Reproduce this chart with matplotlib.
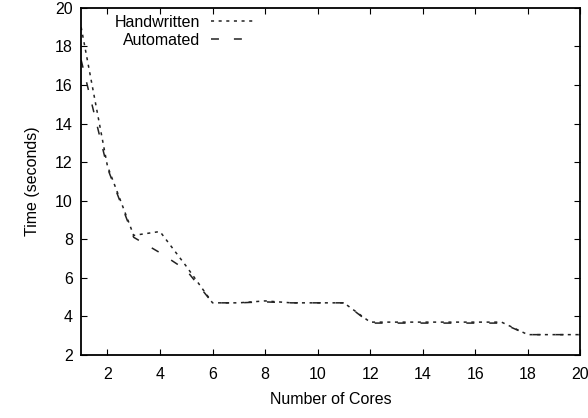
import matplotlib
matplotlib.use('Agg')
from matplotlib import pyplot as plt

plt.rcParams['font.family'] = ['Liberation Sans', 'DejaVu Sans']

cores = [1, 2, 3, 4, 5, 6, 7, 8, 9, 10, 11, 12, 13, 14, 15, 16, 17, 18, 19, 20]
handwritten = [19.0, 11.8, 8.2, 8.4, 6.6, 4.7, 4.7, 4.8, 4.7, 4.7, 4.7,
               3.7, 3.7, 3.7, 3.7, 3.7, 3.7, 3.05, 3.05, 3.05]
automated = [17.3, 11.7, 8.1, 7.3, 6.4, 4.7, 4.7, 4.75, 4.7, 4.7, 4.7,
             3.65, 3.65, 3.65, 3.65, 3.65, 3.65, 3.05, 3.05, 3.05]

FS = 11.5

fig = plt.figure(figsize=(5.88, 4.18), dpi=100)
ax = fig.add_axes([0.138, 0.151, 0.849, 0.830])

ax.plot(cores, handwritten, color='#222222', linewidth=1.1,
        linestyle=(0, (2, 3)), label='Handwritten')
ax.plot(cores, automated, color='#222222', linewidth=1.1,
        linestyle=(0, (5.2, 9.8)), label='Automated')

ax.set_xlim(1, 20)
ax.set_ylim(2, 20)
ax.set_xticks(range(2, 21, 2))
ax.set_yticks(range(2, 21, 2))
ax.tick_params(direction='in', top=True, right=True, length=4, labelsize=FS)
ax.tick_params(axis='x', pad=9)
ax.tick_params(axis='y', pad=6)
for s in ax.spines.values():
    s.set_linewidth(1.3)

ax.set_xlabel('Number of Cores', fontsize=FS, labelpad=7)
ax.set_ylabel('Time (seconds)', fontsize=FS, labelpad=11)

ax.legend(loc='upper right', bbox_to_anchor=(0.35, 0.98), frameon=False,
          markerfirst=False, fontsize=FS, handlelength=2.8,
          labelspacing=0.2, handletextpad=0.7, borderpad=0, borderaxespad=0)

plt.savefig('out.png', dpi=100)
